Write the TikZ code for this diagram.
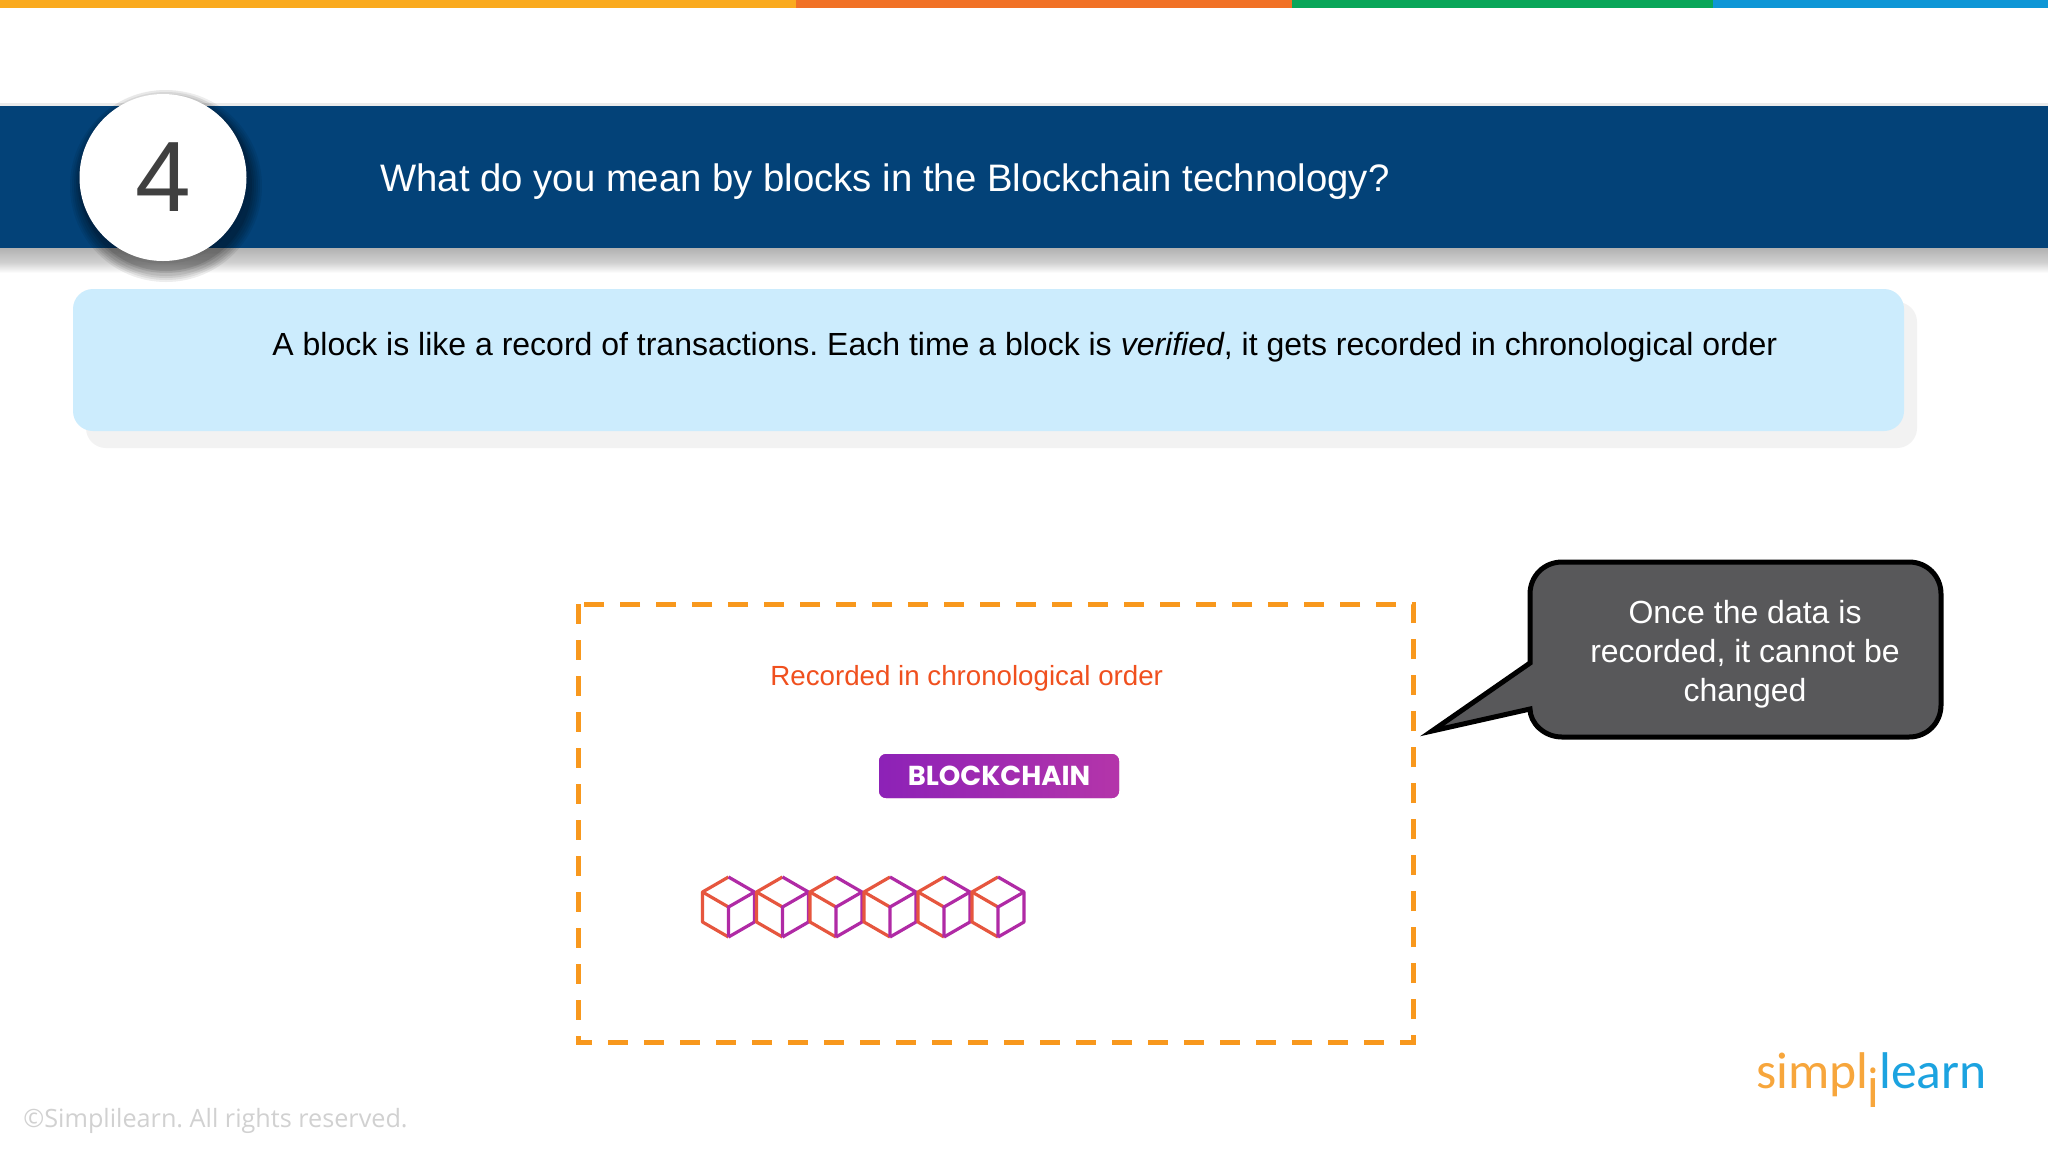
\documentclass[tikz,border=0pt]{standalone}
\usepackage{fontspec}
\setmainfont{Liberation Sans}
\newfontfamily\logofont{Carlito}
\newfontfamily\footfont{Open Sans}
\newfontfamily\badgefont{Poppins}
\usepackage{xcolor}
\definecolor{barblue}{RGB}{3,66,120}
\definecolor{noteblue}{RGB}{204,236,253}
\definecolor{dashorange}{RGB}{248,152,29}
\definecolor{callgrey}{RGB}{88,88,90}
\definecolor{redtext}{RGB}{240,80,30}
\definecolor{logoorange}{RGB}{247,166,60}
\definecolor{logoblue}{RGB}{28,163,224}
\definecolor{cubeleft}{RGB}{230,86,62}
\definecolor{cuberight}{RGB}{176,42,165}
\definecolor{stripyellow}{RGB}{250,170,30}
\definecolor{striporange}{RGB}{241,113,38}
\definecolor{stripgreen}{RGB}{9,166,89}
\definecolor{stripblue}{RGB}{14,150,214}
\frenchspacing
\tikzset{
  dashbox/.style={draw=dashorange,line width=2.5pt,dash pattern=on 10pt off 8pt},
  callout/.style={draw=black,fill=callgrey,line width=2.5pt,line join=miter},
  calltext/.style={text=white,font=\fontsize{16}{19.6}\selectfont,align=center},
  cubeblock/.pic={
    \draw[cubeleft,line width=1.6pt,line join=round] (0,-30) -- (-26,-15) -- (-26,15) -- (0,30);
    \draw[cuberight,line width=1.6pt,line join=round] (0,-30) -- (26,-15) -- (26,15) -- (0,30);
    \draw[cubeleft,line width=1.6pt] (-26,-15) -- (0,0);
    \draw[cuberight,line width=1.6pt] (26,-15) -- (0,0) -- (0,30);
  }
}
\begin{document}
\begin{tikzpicture}[x=0.5pt,y=-0.5pt]
        \useasboundingbox (0,0) rectangle (2048,1152);
        \fill[white] (0,0) rectangle (2048,1152);
        % top strip
        \fill[stripyellow] (0,0) rectangle (796,8);
        \fill[striporange] (796,0) rectangle (1292,8);
        \fill[stripgreen] (1292,0) rectangle (1713,8);
        \fill[stripblue] (1713,0) rectangle (2048,8);
        % title band
        \fill[black!8] (0,103) rectangle (2048,106);
        \shade[top color=black!30,bottom color=black!19] (0,248) rectangle (2048,262);
        \shade[top color=black!19,bottom color=white] (0,262) rectangle (2048,273);
        \fill[barblue] (0,106) rectangle (2048,248);
        \fill[black,opacity=0.02] (163,177) circle (87);
        \fill[black,opacity=0.07] (166,186) circle (96);
        \fill[black,opacity=0.07] (166,186) circle (94);
        \fill[black,opacity=0.08] (166,186) circle (92);
        \fill[black,opacity=0.08] (166,186) circle (90);
        \fill[black,opacity=0.09] (166,185) circle (88);
        \fill[black,opacity=0.10] (166,185) circle (86);
        \node[circle,fill=white,minimum size=83.5pt,inner sep=0pt,text=black!75,font=\fontsize{50}{50}\selectfont] (number) at (163,177.5) {4};
        \node[anchor=west,inner sep=0pt,text=white,font=\fontsize{19.15}{23}\selectfont] (title) at (380,182) {What do you mean by blocks in the Blockchain technology?};
        % note box
        \fill[black!5,rounded corners=10pt] (86,302) rectangle (1917,448);
        \fill[noteblue,rounded corners=10pt] (73,289) rectangle (1904,431);
        \node[anchor=west,inner sep=0pt,font=\fontsize{16}{19}\selectfont] (note) at (272,347) {A block is like a record of transactions. Each time a block is \textit{verified}, it gets recorded in chronological order};
        % dashed frame
        \draw[dashbox] (578,604) rectangle (1413,1042);
        \node[anchor=west,inner sep=0pt,text=redtext,font=\fontsize{13.85}{17}\selectfont] (recorded) at (770,678) {Recorded in chronological order};
        \node[fill=cuberight,left color=cuberight!80!blue,right color=cuberight!95,rounded corners=3.5pt,minimum width=120pt,minimum height=22pt,inner sep=0pt,text=white,font=\badgefont\bfseries\fontsize{13.7}{13}\selectfont] (badge) at (999,776) {BLOCKCHAIN};
        \pic at (728.5,907) {cubeblock}; %1
        \pic at (782.5,907) {cubeblock}; %2
        \pic at (836,907) {cubeblock}; %3
        \pic at (890,907) {cubeblock}; %4
        \pic at (944,907) {cubeblock}; %5
        \pic at (998,907) {cubeblock}; %6
        % callout
        \draw[callout] (1530,663) -- (1530,594) .. controls (1530,576) and (1544,562) .. (1562,562) -- (1909,562) .. controls (1927,562) and (1941,576) .. (1941,594) -- (1941,705) .. controls (1941,723) and (1927,737) .. (1909,737) -- (1562,737) .. controls (1544,737) and (1530,723) .. (1530,709) -- (1432,731) -- cycle;
        \node[calltext] (calltxt) at (1745,654) {Once the data is\\recorded, it cannot be\\changed};
        % logo and footer
        \node[anchor=base east,inner sep=0pt,text=logoorange,font=\logofont\fontsize{25.8}{26}\selectfont] (simpl) at (1869,1088) {simpl};
        \node[anchor=base,inner sep=0pt,text=logoorange,font=\footfont\fontsize{27}{27}\selectfont] (logoi) at (1873,1107) {i};
        \node[anchor=base west,inner sep=0pt,text=logoblue,font=\logofont\fontsize{25.8}{26}\selectfont] (learn) at (1879,1088) {learn};
        \node[anchor=west,inner sep=0pt,text=black!18,font=\footfont\fontsize{12.6}{13}\selectfont] (rights) at (23,1121) {©Simplilearn. All rights reserved.};
    \end{tikzpicture}
\end{document}
